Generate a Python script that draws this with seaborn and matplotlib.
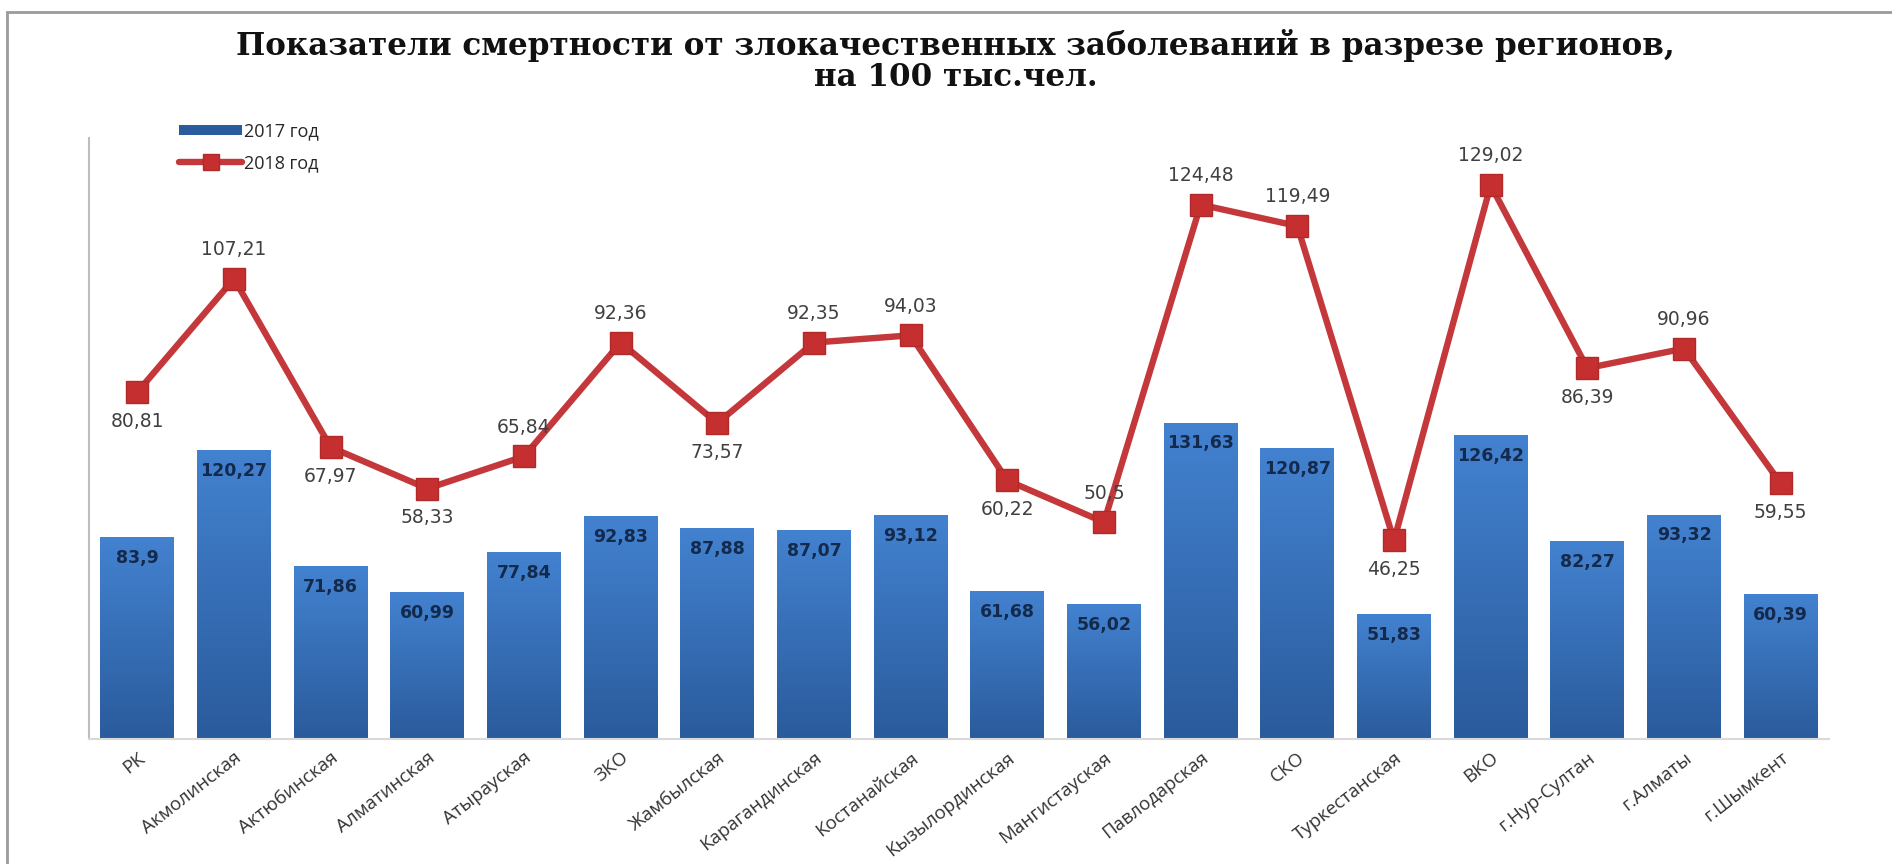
import numpy as np
import pandas as pd
import matplotlib
matplotlib.use("Agg")
import matplotlib.pyplot as plt
from matplotlib.colors import LinearSegmentedColormap
from matplotlib.lines import Line2D
from matplotlib.patches import Rectangle
import seaborn as sns

# Regions and mortality rates per 100k population
regions = ["РК", "Акмолинская", "Актюбинская", "Алматинская", "Атырауская", "ЗКО",
           "Жамбылская", "Карагандинская", "Костанайская", "Кызылординская",
           "Мангистауская", "Павлодарская", "СКО", "Туркестанская", "ВКО",
           "г.Нур-Султан", "г.Алматы", "г.Шымкент"]
rate_2017 = [83.9, 120.27, 71.86, 60.99, 77.84, 92.83, 87.88, 87.07, 93.12, 61.68,
             56.02, 131.63, 120.87, 51.83, 126.42, 82.27, 93.32, 60.39]
rate_2018 = [80.81, 107.21, 67.97, 58.33, 65.84, 92.36, 73.57, 92.35, 94.03, 60.22,
             50.5, 124.48, 119.49, 46.25, 129.02, 86.39, 90.96, 59.55]
# where each 2018 label sits relative to its marker
label_side_2018 = ["below", "above", "below", "below", "above", "above", "below", "above",
                   "above", "below", "above", "above", "above", "below", "above", "below",
                   "above", "below"]
series_names = ["2017 год", "2018 год"]
title_text = "Показатели смертности от злокачественных заболеваний в разрезе регионов,\nна 100 тыс.чел."

df = pd.DataFrame({"region": regions, "y2017": rate_2017, "y2018": rate_2018})
df["pos"] = np.arange(len(df))

sns.set_theme(style="white")
plt.rcParams["font.family"] = ["DejaVu Sans"]

BAR_TOP = "#4382d0"
BAR_BOTTOM = "#2a5b9c"
LINE_RED = "#c4373a"
MARKER_RED = "#c62f2f"

fig = plt.figure(figsize=(18.92, 8.64), dpi=100)
fig.patch.set_facecolor("white")

# outer frame
fig.add_artist(Rectangle((7 / 1892, -0.05), 1.1, (864 - 12) / 864 + 0.05,
                         transform=fig.transFigure, fill=False,
                         edgecolor="#9a9a9a", linewidth=2.0))

ax = fig.add_axes([89 / 1892, (864 - 739) / 864, (1829 - 89) / 1892, (739 - 138) / 864])
sns.barplot(data=df, x="pos", y="y2017", color=BAR_TOP, width=0.765,
            saturation=1, ax=ax, zorder=2)

# vertical gradient fill on each bar
cmap = LinearSegmentedColormap.from_list("bar_grad", [BAR_BOTTOM, BAR_TOP])
grad = np.linspace(0, 1, 256).reshape(-1, 1)
for patch in list(ax.patches):
    x0, y0 = patch.get_x(), patch.get_y()
    w, h = patch.get_width(), patch.get_height()
    im = ax.imshow(grad, extent=[x0, x0 + w, y0, y0 + h], origin="lower",
                   aspect="auto", cmap=cmap, zorder=2.5)
    im.set_clip_path(patch)
    patch.set_edgecolor("none")
ax.set_xlim(-0.5, len(df) - 0.5)
ax.set_ylim(0, 250)

for xi, v in zip(df["pos"], df["y2017"]):
    ax.annotate(f"{v:g}".replace(".", ","), (xi, v), xytext=(0, -15),
                textcoords="offset points", ha="center", va="center",
                fontsize=12.5, fontweight="bold", color="#142a4d", zorder=5)

ax.set_xticks(df["pos"])
ax.set_xticklabels(regions, rotation=38, ha="right", rotation_mode="anchor",
                   fontsize=13.5, color="#333333", family=["Open Sans", "DejaVu Sans"])
ax.tick_params(axis="x", length=0, pad=7)
ax.set_yticks([])
ax.set_xlabel("")
ax.set_ylabel("")
for side in ["top", "right"]:
    ax.spines[side].set_visible(False)
ax.spines["left"].set_color("#bdbdbd")
ax.spines["left"].set_linewidth(1.5)
ax.spines["bottom"].set_color("#d9d9d9")
ax.spines["bottom"].set_linewidth(1.5)

# 2018 series on its own scale
ax2 = ax.twinx()
sns.lineplot(data=df, x="pos", y="y2018", color=LINE_RED, linewidth=4.6,
             marker="s", markersize=15.5, markerfacecolor=MARKER_RED,
             markeredgecolor="#b02a2a", markeredgewidth=1, sort=False, ax=ax2, zorder=4)
ax2.set_ylim(0, 140)
ax2.set_xlim(-0.5, len(df) - 0.5)
ax2.set_yticks([])
ax2.set_ylabel("")
for side in ["top", "right", "left", "bottom"]:
    ax2.spines[side].set_visible(False)

for xi, v, side in zip(df["pos"], df["y2018"], label_side_2018):
    dy = 21 if side == "above" else -21
    ax2.annotate(f"{v:g}".replace(".", ","), (xi, v), xytext=(0, dy),
                 textcoords="offset points", ha="center", va="center",
                 fontsize=13.5, color="#404040", zorder=5)

fig.text(0.505, 0.967, title_text, ha="center", va="top", fontsize=22.3,
         fontweight="bold", family=["DejaVu Serif"], linespacing=1.0, color="#111111")

handles = [Rectangle((0, 0), 1, 0.4, facecolor=BAR_BOTTOM, edgecolor="none"),
           Line2D([], [], color=LINE_RED, linewidth=4.6, marker="s", markersize=12,
                  markerfacecolor=MARKER_RED, markeredgecolor="#b02a2a")]
fig.legend(handles, series_names, loc="upper left", bbox_to_anchor=(163 / 1892, 1 - 106 / 864),
           frameon=False, handlelength=3.5, handleheight=0.45,
           handletextpad=0.1, labelspacing=0.75, prop={"family": "Open Sans", "size": 13})

fig.savefig("out.png", dpi=100, facecolor="white")
